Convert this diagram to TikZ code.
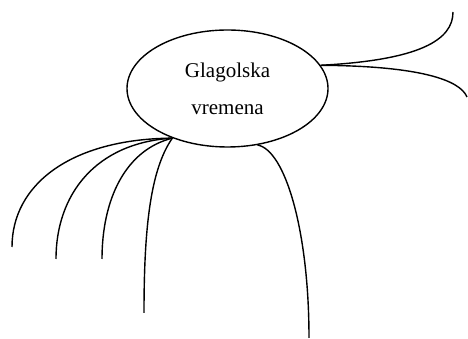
\documentclass[tikz,border=0pt]{standalone}
\usepackage{fontspec}
\setmainfont{Liberation Serif}

\tikzset{
	grana/.style = {line width = 1.4pt},
	pojam/.style = {ellipse, draw, line width = 1.4pt, minimum width = 201pt,
		minimum height = 117pt, inner sep = 0pt, align = center,
		font = \fontsize{21}{37}\selectfont}
}
\usetikzlibrary{shapes.geometric}

\begin{document}
\begin{tikzpicture}[x = 1pt, y = 1pt]
		\useasboundingbox (0, 0) rectangle (468, 339) ;
		\node [pojam] (vr) at (227.5, 250.5) {Glagolska\\vremena} ;
		% krajevi grana
		\coordinate (gd) at (453, 327) ;
		\coordinate (dd) at (467, 242) ;
		\coordinate (dl) at (309, 1) ;
		\begin{scope}[grana] % Desno
			\draw (vr.14) .. controls (420, 279) and (453, 299) .. (gd) ;
			\draw (vr.14) .. controls (420, 273) and (460, 259) .. (dd) ;
			\draw (vr.298) .. controls (285, 189) and (309, 109) .. (dl) ;
		\end{scope}
		\begin{scope}[grana] % Lijevo
			\foreach \n/\ax/\ay/\bx/\by/\ex/\ey in {1/70/200/12/154/12/92,
					2/95/196/56/144/56/80, 3/125/189/102/139/102/80,
					4/150/169/144/109/144/26}{
				\coordinate (l\n) at (\ex, \ey) ;
				\draw (vr.222) .. controls (\ax, \ay) and (\bx, \by) .. (l\n) ;
			}
		\end{scope}
	\end{tikzpicture}
\end{document}
